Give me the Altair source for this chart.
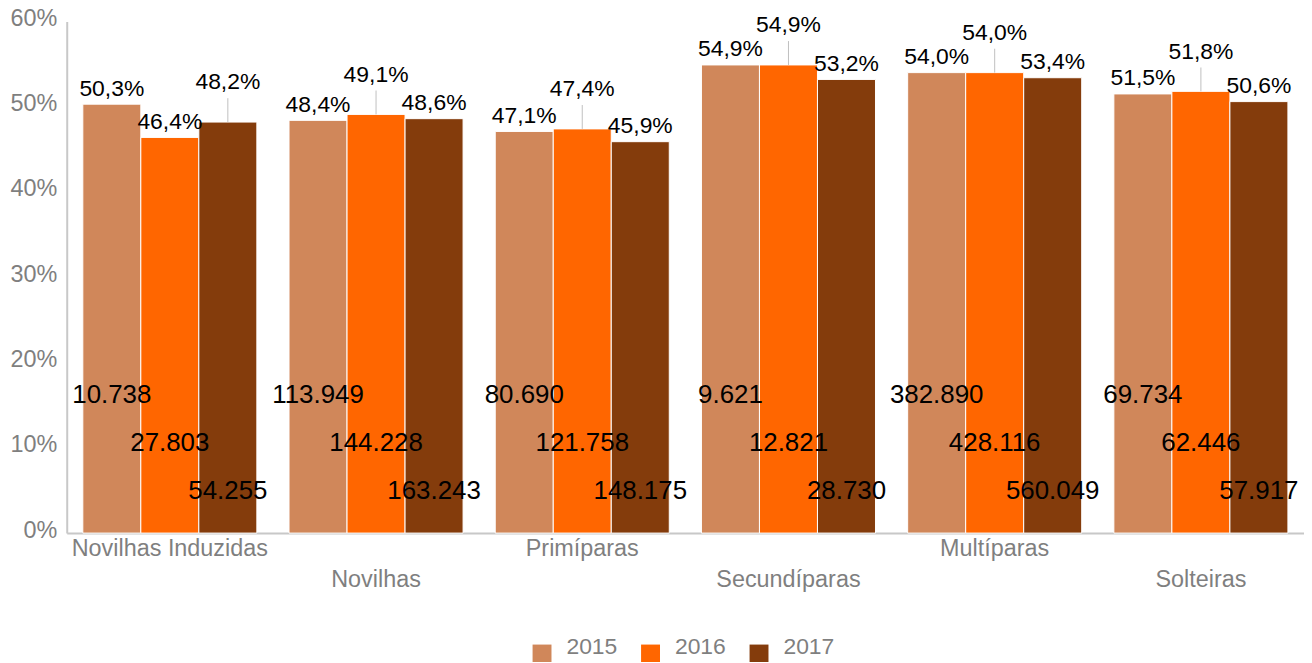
import altair as alt
import pandas as pd

categories = ["Novilhas Induzidas", "Novilhas", "Primíparas", "Secundíparas", "Multíparas", "Solteiras"]
years = ["2015", "2016", "2017"]
colors = ["#D0875A", "#FF6600", "#843C0C"]

pct_2015 = [50.3, 48.4, 47.1, 54.9, 54.0, 51.5]
pct_2016 = [46.4, 49.1, 47.4, 54.9, 54.0, 51.8]
pct_2017 = [48.2, 48.6, 45.9, 53.2, 53.4, 50.6]

n_2015 = [10738, 113949, 80690, 9621, 382890, 69734]
n_2016 = [27803, 144228, 121758, 12821, 428116, 62446]
n_2017 = [54255, 163243, 148175, 28730, 560049, 57917]

raised_labels = [("Novilhas Induzidas", "2017"), ("Novilhas", "2016"), ("Primíparas", "2016"),
                 ("Secundíparas", "2016"), ("Multíparas", "2016"), ("Solteiras", "2016")]

rows = []
for yr, pcts, ns in zip(years, [pct_2015, pct_2016, pct_2017], [n_2015, n_2016, n_2017]):
    for cat, p, n in zip(categories, pcts, ns):
        rows.append({"cat": cat, "year": yr, "pct": p / 100.0, "n": n,
                     "raised": (cat, yr) in raised_labels})
df = pd.DataFrame(rows)

FONT = "Liberation Sans"
GRAY = "#7f7f7f"

stagger = "[" + ",".join("'%s'" % c for c in categories) + "]"
label_expr = "indexof(%s, datum.value) %% 2 == 1 ? ['', datum.value] : datum.value" % stagger

x_enc = alt.X("cat:N", sort=categories, title=None,
              scale=alt.Scale(paddingInner=0.156, paddingOuter=0.078),
              axis=alt.Axis(labelExpr=label_expr, labelFontSize=23.5, labelColor=GRAY,
                            labelFont=FONT, labelBaseline="top", labelPadding=4,
                            labelLineHeight=31, labelLimit=0, labelOverlap=False,
                            labelAngle=0, ticks=False, domainColor="#c8c8c8", domainWidth=2))
xo_enc = alt.XOffset("year:N", sort=years, scale=alt.Scale(paddingInner=0, paddingOuter=0))
y_scale = alt.Scale(domain=[0, 0.6], nice=False, zero=True)

base = alt.Chart(df).encode(x=x_enc, xOffset=xo_enc).transform_calculate(
    plabel="replace(format(datum.pct, '.1%'), '.', ',')",
    nlabel="replace(format(datum.n, ','), ',', '.')",
    nlev="datum.year == '2015' ? 0.1527 : (datum.year == '2016' ? 0.0962 : 0.0405)",
    ptop="datum.pct + 0.028",
)

bars = base.mark_bar(stroke="white", strokeWidth=1).encode(
    y=alt.Y("pct:Q", scale=y_scale, title=None,
            axis=alt.Axis(format=".0%", values=[0, 0.1, 0.2, 0.3, 0.4, 0.5, 0.6],
                          labelFontSize=23.5, labelColor=GRAY, labelFont=FONT,
                          labelPadding=10, labelOffset=-3, ticks=False, grid=False,
                          domainColor="#c8c8c8", domainWidth=2, title=None)),
    color=alt.Color("year:N", sort=years, scale=alt.Scale(domain=years, range=colors),
                    legend=alt.Legend(title=None, orient="none", legendX=466, legendY=624,
                                      direction="horizontal", symbolType="square",
                                      symbolSize=361, symbolStrokeWidth=0,
                                      labelFontSize=23, labelColor=GRAY, labelFont=FONT,
                                      labelOffset=13, columnPadding=21, padding=0,
                                      labelBaseline="alphabetic")),
)

leaders = base.transform_filter("datum.raised").mark_rule(color="#bfbfbf", strokeWidth=1).encode(
    y=alt.Y("pct:Q", scale=y_scale, title=None), y2="ptop:Q")

pct_normal = base.transform_filter("!datum.raised").mark_text(
    baseline="alphabetic", dy=-8.5, fontSize=23, font=FONT, color="black").encode(
    y=alt.Y("pct:Q", scale=y_scale, title=None), text="plabel:N")

pct_raised = base.transform_filter("datum.raised").mark_text(
    baseline="alphabetic", dy=-33, fontSize=23, font=FONT, color="black").encode(
    y=alt.Y("pct:Q", scale=y_scale, title=None), text="plabel:N")

counts = base.mark_text(baseline="alphabetic", fontSize=26, font=FONT, color="black").encode(
    y=alt.Y("nlev:Q", scale=y_scale, title=None), text="nlabel:N")

chart = alt.layer(bars, leaders, pct_normal, pct_raised, counts).properties(
    width=1243, height=514,
    autosize=alt.AutoSizeParams(type="none"),
    padding={"left": 59, "top": 12, "right": 0, "bottom": 128},
).configure_view(stroke=None)

chart.save("out.html", embed_options={"renderer": "svg", "actions": False})
